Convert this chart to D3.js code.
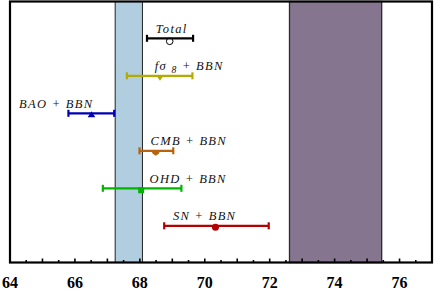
<!DOCTYPE html>
<html><head><meta charset="utf-8">
<script src="https://cdn.jsdelivr.net/npm/d3@7"></script>
<style>body{margin:0;background:#fff}svg{display:block}</style>
</head><body><svg id="c" width="436" height="294"></svg>
<script>
const categories = ["Total", "fs8", "BAO", "CMB", "OHD", "SN"];
const centers = [68.92, 68.62, 66.51, 68.49, 68.04, 70.33];
const lows    = [68.22, 67.60, 65.80, 67.99, 66.86, 68.75];
const highs   = [69.64, 69.62, 67.21, 69.03, 69.28, 71.97];
const colors  = ["#000000", "#b3ab00", "#0000b0", "#b8640c", "#00b400", "#b40000"];
const markers = ["opencircle", "triDown", "triUp", "diamond", "square", "circle"];
const labelX  = [68.98, 68.46, 64.28, 68.33, 68.30, 69.02];
const labelAnchor = ["middle", "start", "start", "start", "start", "start"];
const bandPlanck = [67.24, 68.08];
const bandRiess  = [72.61, 75.45];
const xTicks = [64, 66, 68, 70, 72, 74, 76];
const xDomain = [64, 77];

const svg = d3.select("#c");
const L = 10, R = 432, T = 1.5, B = 262.5;
const x = d3.scaleLinear().domain(xDomain).range([L, R]);
const y = d3.scalePoint().domain(categories).range([38.3, 225.8]);

// bands
svg.append("rect").attr("x", x(bandPlanck[0])).attr("y", T).attr("width", x(bandPlanck[1]) - x(bandPlanck[0])).attr("height", B - T)
  .attr("fill", "#b1cee0").attr("stroke", "#222").attr("stroke-width", 1);
svg.append("rect").attr("x", x(bandRiess[0])).attr("y", T).attr("width", x(bandRiess[1]) - x(bandRiess[0])).attr("height", B - T)
  .attr("fill", "#85758f").attr("stroke", "#2a2a30").attr("stroke-width", 1.3);

// ticks (inward) at 0.5 steps
const minor = d3.range(64.5, 77, 0.5);
svg.append("g").selectAll("line").data(minor).join("line")
  .attr("x1", d => x(d)).attr("x2", d => x(d))
  .attr("y1", B).attr("y2", d => B - (Number.isInteger(d) ? 4 : 2.5))
  .attr("stroke", "#000").attr("stroke-width", 1.6);

// frame
svg.append("rect").attr("x", L).attr("y", T).attr("width", R - L).attr("height", B - T)
  .attr("fill", "none").attr("stroke", "#000").attr("stroke-width", 2.2);

// tick labels
svg.append("g").selectAll("text").data(xTicks).join("text")
  .attr("x", d => x(d)).attr("y", 287.8).attr("text-anchor", "middle")
  .attr("font-family", "Liberation Serif, serif").attr("font-weight", "bold").attr("font-size", 16)
  .text(d => d);

// error bars
const rows = categories.map((c, i) => ({c, m: centers[i], lo: lows[i], hi: highs[i], col: colors[i], mk: markers[i], lx: labelX[i], la: labelAnchor[i]}));
const g = svg.append("g");
rows.forEach(r => {
  const yy = y(r.c);
  const gg = g.append("g");
  const mx = x(r.m);
  if (r.mk === "opencircle") {
    gg.append("circle").attr("cx", mx).attr("cy", yy + 3).attr("r", 3.3).attr("fill", "#fff").attr("stroke", r.col).attr("stroke-width", 1);
  } else if (r.mk === "circle") {
    gg.append("circle").attr("cx", mx).attr("cy", yy + 1.5).attr("r", 3.5).attr("fill", r.col);
  } else if (r.mk === "triDown") {
    gg.append("path").attr("d", `M${mx-3.5},${yy} L${mx+3.5},${yy} L${mx},${yy+5} Z`).attr("fill", r.col);
  } else if (r.mk === "triUp") {
    gg.append("path").attr("d", `M${mx-3.8},${yy+4} L${mx+3.8},${yy+4} L${mx},${yy-2} Z`).attr("fill", r.col);
  } else if (r.mk === "diamond") {
    gg.append("path").attr("d", `M${mx-4.5},${yy} L${mx+4.5},${yy} L${mx+3},${yy+3} L${mx},${yy+5} L${mx-3},${yy+3} Z`).attr("fill", r.col);
  } else if (r.mk === "square") {
    gg.append("rect").attr("x", mx - 3).attr("y", yy - 1).attr("width", 6).attr("height", 6).attr("fill", r.col);
  }
  gg.append("line").attr("x1", x(r.lo)).attr("x2", x(r.hi)).attr("y1", yy).attr("y2", yy)
    .attr("stroke", r.col).attr("stroke-width", 2.2);
  [r.lo, r.hi].forEach(v => gg.append("line").attr("x1", x(v)).attr("x2", x(v)).attr("y1", yy - 3.5).attr("y2", yy + 3.5)
    .attr("stroke", r.col).attr("stroke-width", 2.2));
});

// labels
const labels = {
  Total: [["Total"]],
  fs8: [["f\u03C3 "], ["8", "sub"], [" + BBN"]],
  BAO: [["BAO + BBN"]],
  CMB: [["CMB + BBN"]],
  OHD: [["OHD + BBN"]],
  SN: [["SN + BBN"]]
};
rows.forEach(r => {
  const t = svg.append("text").attr("x", x(r.lx)).attr("y", y(r.c) - 5.5).attr("text-anchor", r.la)
    .attr("font-family", "Liberation Serif, serif").attr("font-style", "italic").attr("font-size", 12.5)
    .attr("letter-spacing", 1.3).style("white-space", "pre").attr("fill", "#111");
  labels[r.c].forEach(p => {
    const ts = t.append("tspan").text(p[0]);
    if (p[1] === "sub") ts.attr("font-size", 9.5).attr("dy", 3);
    else if (t.selectAll("tspan").size() > 1) ts.attr("dy", -3);
  });
});
</script></body></html>
